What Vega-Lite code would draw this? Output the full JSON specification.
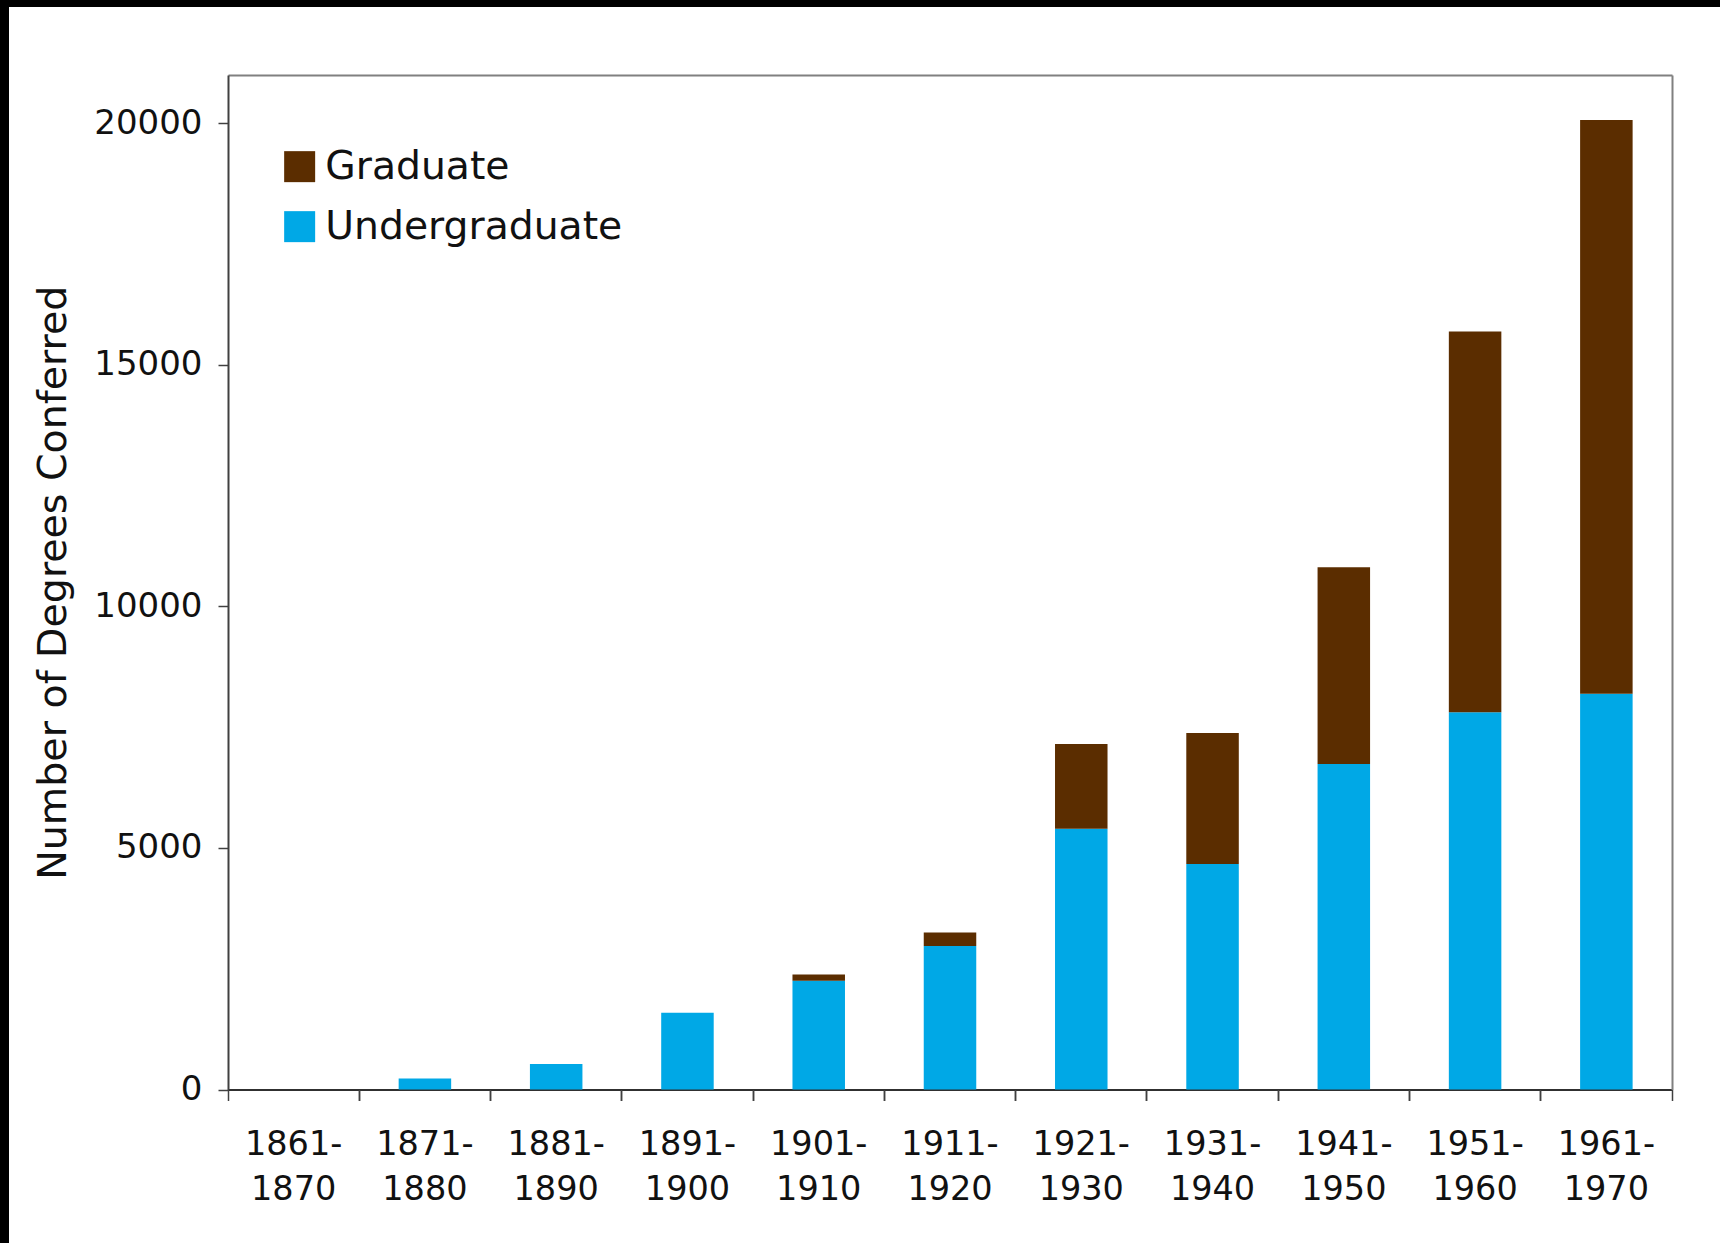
{
  "$schema": "https://vega.github.io/schema/vega-lite/v6.json",
  "autosize": {"type": "none"},
  "width": 1711,
  "height": 1236,
  "padding": {"left": 9, "top": 7, "right": 0, "bottom": 0},
  "background": "#000000",
  "config": {
    "view": {"fill": "#ffffff", "stroke": null},
    "font": "DejaVu Sans",
    "axis": {"labelFont": "DejaVu Sans", "titleFont": "DejaVu Sans", "grid": false}
  },
  "data": {
    "values": [
      {"decade": "1861-1870", "type": "Undergraduate", "degrees": 0},
      {"decade": "1861-1870", "type": "Graduate", "degrees": 0},
      {"decade": "1871-1880", "type": "Undergraduate", "degrees": 230},
      {"decade": "1871-1880", "type": "Graduate", "degrees": 0},
      {"decade": "1881-1890", "type": "Undergraduate", "degrees": 530},
      {"decade": "1881-1890", "type": "Graduate", "degrees": 0},
      {"decade": "1891-1900", "type": "Undergraduate", "degrees": 1590},
      {"decade": "1891-1900", "type": "Graduate", "degrees": 0},
      {"decade": "1901-1910", "type": "Undergraduate", "degrees": 2250},
      {"decade": "1901-1910", "type": "Graduate", "degrees": 130},
      {"decade": "1911-1920", "type": "Undergraduate", "degrees": 2970},
      {"decade": "1911-1920", "type": "Graduate", "degrees": 280},
      {"decade": "1921-1930", "type": "Undergraduate", "degrees": 5400},
      {"decade": "1921-1930", "type": "Graduate", "degrees": 1750},
      {"decade": "1931-1940", "type": "Undergraduate", "degrees": 4670},
      {"decade": "1931-1940", "type": "Graduate", "degrees": 2710},
      {"decade": "1941-1950", "type": "Undergraduate", "degrees": 6740},
      {"decade": "1941-1950", "type": "Graduate", "degrees": 4070},
      {"decade": "1951-1960", "type": "Undergraduate", "degrees": 7810},
      {"decade": "1951-1960", "type": "Graduate", "degrees": 7880},
      {"decade": "1961-1970", "type": "Undergraduate", "degrees": 8190},
      {"decade": "1961-1970", "type": "Graduate", "degrees": 11880}
    ]
  },
  "resolve": {"axis": {"x": "independent", "y": "independent"}},
  "layer": [
    {
      "mark": {"type": "bar", "width": {"band": 0.4}},
      "encoding": {
        "x": {
          "field": "decade",
          "type": "nominal",
          "sort": null,
          "scale": {"range": [219, 1663], "paddingInner": 0, "paddingOuter": 0},
          "axis": {
            "orient": "bottom",
            "offset": -153.5,
            "title": null,
            "bandPosition": 0,
            "labelAngle": 0,
            "labelExpr": "[slice(datum.label, 0, 5), slice(datum.label, 5)]",
            "labelFontSize": 33.5,
            "labelColor": "#111111",
            "labelLineHeight": 45,
            "labelBaseline": "top",
            "labelPadding": 28,
            "tickSize": 11,
            "tickWidth": 1.5,
            "tickColor": "#404040",
            "domainColor": "#303030",
            "domainWidth": 2
          }
        },
        "y": {
          "field": "degrees",
          "type": "quantitative",
          "stack": "zero",
          "scale": {"domain": [0, 21000], "range": [1082.5, 68], "nice": false},
          "axis": {
            "orient": "left",
            "offset": -219,
            "values": [0, 5000, 10000, 15000, 20000],
            "format": "d",
            "title": "Number of Degrees Conferred",
            "titleFontSize": 39.5,
            "titleFontWeight": "normal",
            "titleColor": "#111111",
            "titlePadding": 20,
            "labelFontSize": 34,
            "labelColor": "#111111",
            "labelPadding": 16,
            "tickSize": 10,
            "tickWidth": 1.5,
            "tickColor": "#404040",
            "domainColor": "#404040",
            "domainWidth": 2
          }
        },
        "color": {
          "field": "type",
          "type": "nominal",
          "scale": {"domain": ["Graduate", "Undergraduate"], "range": ["#5B2D00", "#00A8E6"]},
          "legend": {
            "orient": "none",
            "legendX": 271,
            "legendY": 140,
            "title": null,
            "padding": 0,
            "symbolType": "square",
            "symbolSize": 961,
            "symbolStrokeWidth": 0,
            "symbolOpacity": 1,
            "labelFont": "DejaVu Sans",
            "labelFontSize": 39.3,
            "labelColor": "#111111",
            "labelLimit": 0,
            "labelOffset": 6,
            "rowPadding": 20
          }
        },
        "order": {"field": "type", "sort": "descending"}
      }
    },
    {
      "mark": {"type": "bar", "opacity": 0, "width": {"band": 0.4}},
      "encoding": {
        "x": {
          "field": "decade",
          "type": "nominal",
          "sort": null,
          "axis": {
            "orient": "bottom",
            "offset": -153.5,
            "title": null,
            "bandPosition": 1,
            "labels": false,
            "domain": false,
            "tickSize": 11,
            "tickWidth": 1.5,
            "tickColor": "#404040"
          }
        },
        "y": {
          "field": "degrees",
          "type": "quantitative",
          "stack": null,
          "axis": {
            "orient": "right",
            "offset": -48,
            "title": null,
            "labels": false,
            "ticks": false,
            "domainColor": "#808080",
            "domainWidth": 2
          }
        }
      }
    },
    {
      "mark": {"type": "bar", "opacity": 0, "width": {"band": 0.4}},
      "encoding": {
        "x": {
          "field": "decade",
          "type": "nominal",
          "sort": null,
          "axis": {
            "orient": "top",
            "offset": -68,
            "title": null,
            "labels": false,
            "ticks": false,
            "domainColor": "#808080",
            "domainWidth": 2
          }
        },
        "y": {
          "field": "degrees",
          "type": "quantitative",
          "stack": null,
          "axis": null
        }
      }
    }
  ]
}
